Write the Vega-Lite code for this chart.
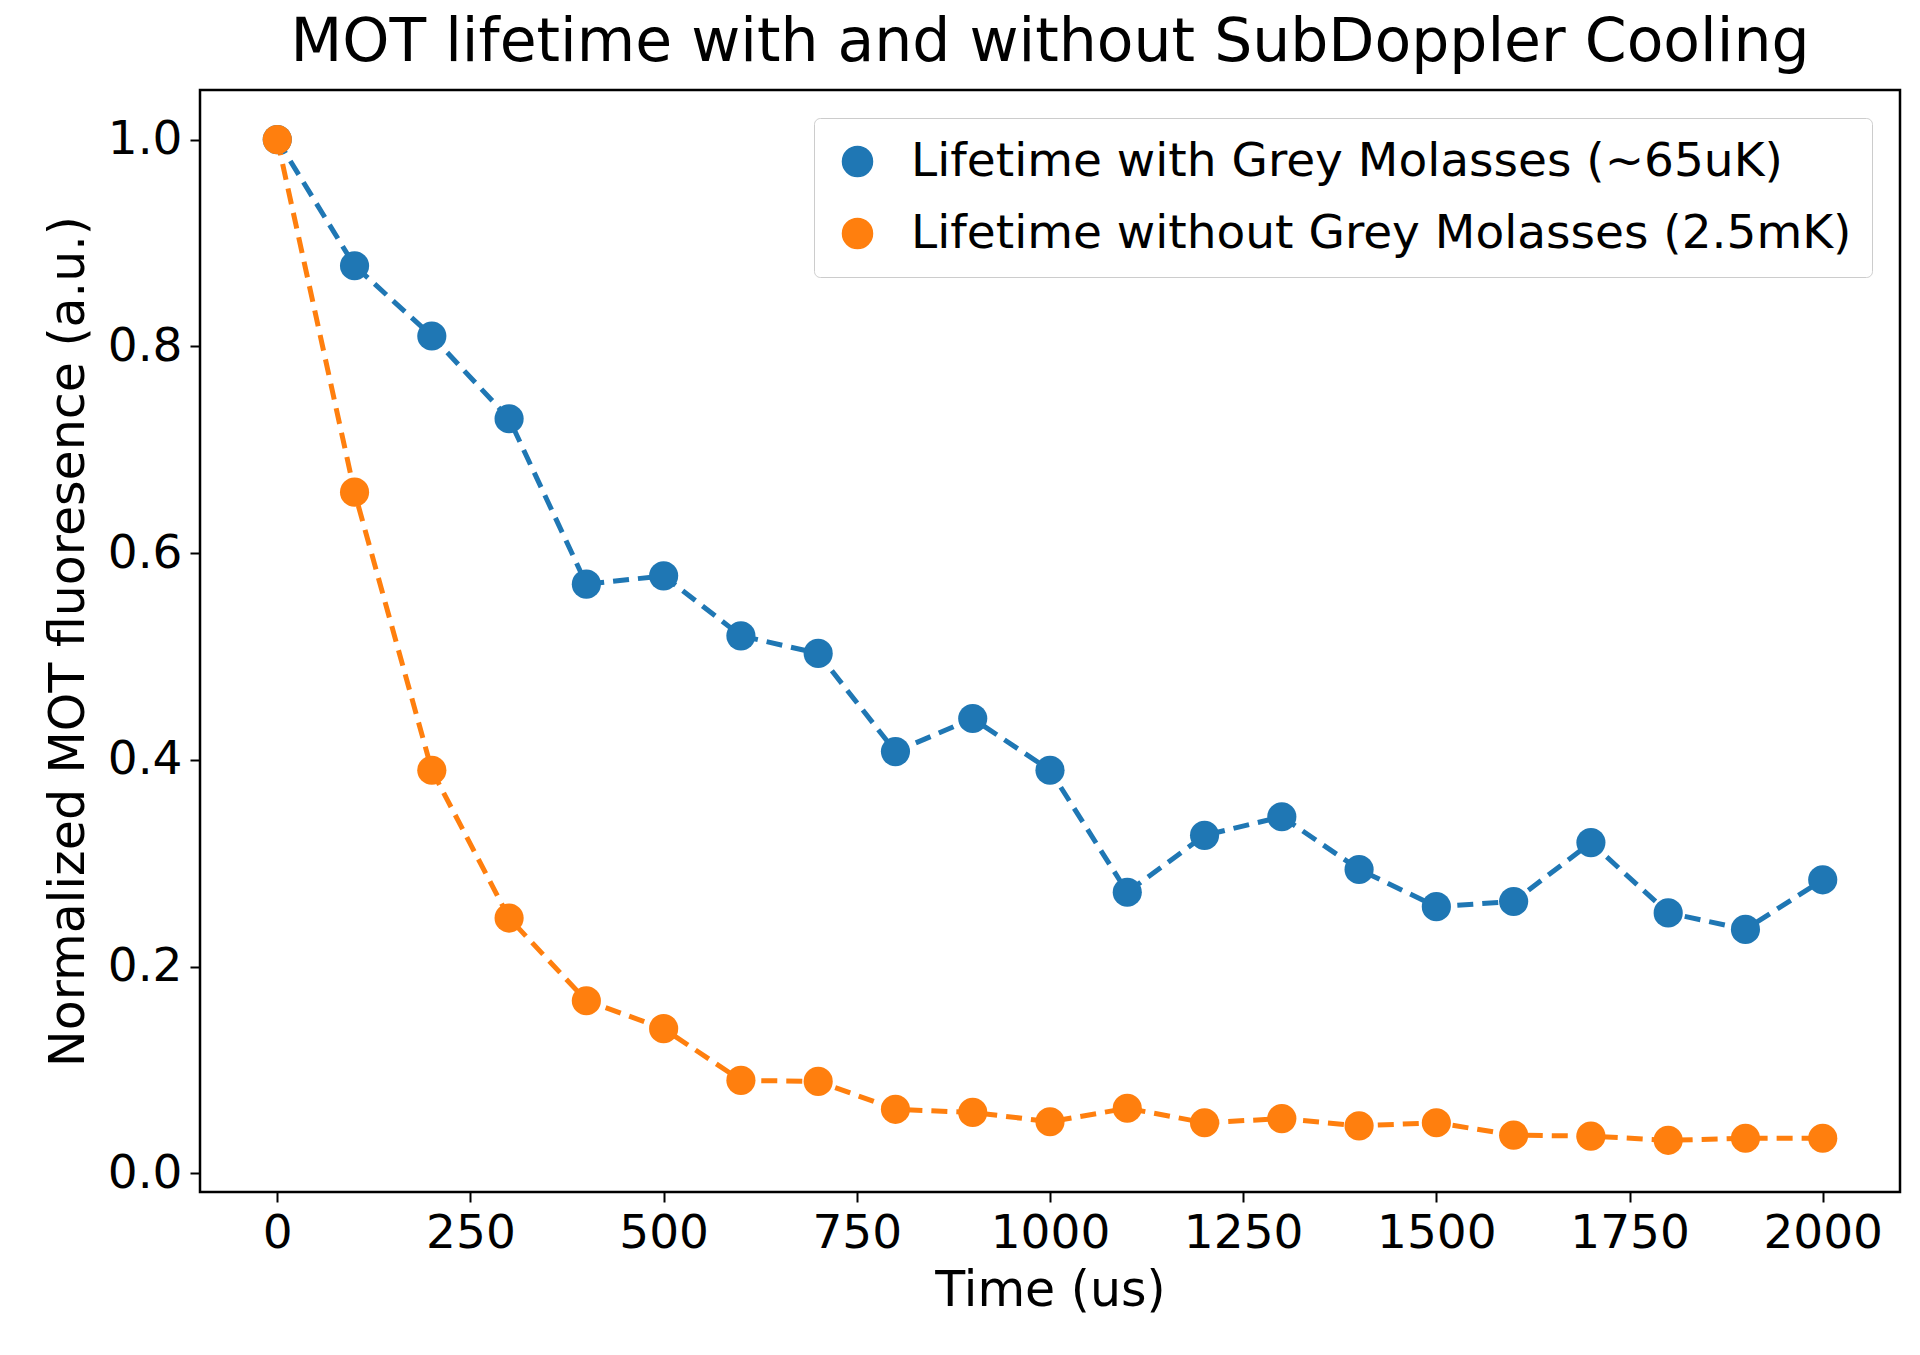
{
"$schema":"https://vega.github.io/schema/vega-lite/v6.json",
"width":1700,"height":1102,"autosize":{"type":"none"},
"padding":{"left":200,"top":90,"right":20,"bottom":163},
"background":"white",
"title":{"text":"MOT lifetime with and without SubDoppler Cooling","fontSize":60,"font":"DejaVu Sans","fontWeight":"normal","offset":16},
"config":{"font":"DejaVu Sans","view":{"stroke":"black","strokeWidth":2.5}},
"data":{"values":[
{"t":0,"y":1.0,"s":"Lifetime with Grey Molasses (~65uK)"},
{"t":100,"y":0.878,"s":"Lifetime with Grey Molasses (~65uK)"},
{"t":200,"y":0.81,"s":"Lifetime with Grey Molasses (~65uK)"},
{"t":300,"y":0.73,"s":"Lifetime with Grey Molasses (~65uK)"},
{"t":400,"y":0.57,"s":"Lifetime with Grey Molasses (~65uK)"},
{"t":500,"y":0.578,"s":"Lifetime with Grey Molasses (~65uK)"},
{"t":600,"y":0.52,"s":"Lifetime with Grey Molasses (~65uK)"},
{"t":700,"y":0.503,"s":"Lifetime with Grey Molasses (~65uK)"},
{"t":800,"y":0.408,"s":"Lifetime with Grey Molasses (~65uK)"},
{"t":900,"y":0.44,"s":"Lifetime with Grey Molasses (~65uK)"},
{"t":1000,"y":0.39,"s":"Lifetime with Grey Molasses (~65uK)"},
{"t":1100,"y":0.272,"s":"Lifetime with Grey Molasses (~65uK)"},
{"t":1200,"y":0.327,"s":"Lifetime with Grey Molasses (~65uK)"},
{"t":1300,"y":0.345,"s":"Lifetime with Grey Molasses (~65uK)"},
{"t":1400,"y":0.294,"s":"Lifetime with Grey Molasses (~65uK)"},
{"t":1500,"y":0.258,"s":"Lifetime with Grey Molasses (~65uK)"},
{"t":1600,"y":0.263,"s":"Lifetime with Grey Molasses (~65uK)"},
{"t":1700,"y":0.32,"s":"Lifetime with Grey Molasses (~65uK)"},
{"t":1800,"y":0.252,"s":"Lifetime with Grey Molasses (~65uK)"},
{"t":1900,"y":0.236,"s":"Lifetime with Grey Molasses (~65uK)"},
{"t":2000,"y":0.284,"s":"Lifetime with Grey Molasses (~65uK)"},
{"t":0,"y":1.0,"s":"Lifetime without Grey Molasses (2.5mK)"},
{"t":100,"y":0.659,"s":"Lifetime without Grey Molasses (2.5mK)"},
{"t":200,"y":0.39,"s":"Lifetime without Grey Molasses (2.5mK)"},
{"t":300,"y":0.247,"s":"Lifetime without Grey Molasses (2.5mK)"},
{"t":400,"y":0.167,"s":"Lifetime without Grey Molasses (2.5mK)"},
{"t":500,"y":0.14,"s":"Lifetime without Grey Molasses (2.5mK)"},
{"t":600,"y":0.09,"s":"Lifetime without Grey Molasses (2.5mK)"},
{"t":700,"y":0.089,"s":"Lifetime without Grey Molasses (2.5mK)"},
{"t":800,"y":0.062,"s":"Lifetime without Grey Molasses (2.5mK)"},
{"t":900,"y":0.059,"s":"Lifetime without Grey Molasses (2.5mK)"},
{"t":1000,"y":0.05,"s":"Lifetime without Grey Molasses (2.5mK)"},
{"t":1100,"y":0.063,"s":"Lifetime without Grey Molasses (2.5mK)"},
{"t":1200,"y":0.049,"s":"Lifetime without Grey Molasses (2.5mK)"},
{"t":1300,"y":0.053,"s":"Lifetime without Grey Molasses (2.5mK)"},
{"t":1400,"y":0.046,"s":"Lifetime without Grey Molasses (2.5mK)"},
{"t":1500,"y":0.049,"s":"Lifetime without Grey Molasses (2.5mK)"},
{"t":1600,"y":0.037,"s":"Lifetime without Grey Molasses (2.5mK)"},
{"t":1700,"y":0.036,"s":"Lifetime without Grey Molasses (2.5mK)"},
{"t":1800,"y":0.032,"s":"Lifetime without Grey Molasses (2.5mK)"},
{"t":1900,"y":0.034,"s":"Lifetime without Grey Molasses (2.5mK)"},
{"t":2000,"y":0.034,"s":"Lifetime without Grey Molasses (2.5mK)"}
]},
"encoding":{
"x":{"field":"t","type":"quantitative","scale":{"domain":[-100,2100],"nice":false,"zero":false},"title":"Time (us)",
"axis":{"values":[0,250,500,750,1000,1250,1500,1750,2000],"format":"d","grid":false,"labelFontSize":47,"titleFontSize":49,"titleFontWeight":"normal","tickSize":10,"tickWidth":2,"labelPadding":8,"titlePadding":10,"domain":false,"labelColor":"black","titleColor":"black","tickColor":"black"}},
"y":{"field":"y","type":"quantitative","scale":{"domain":[-0.018,1.048],"nice":false,"zero":false},"title":"Normalized MOT fluoresence (a.u.)",
"axis":{"values":[0,0.2,0.4,0.6,0.8,1.0],"format":".1f","grid":false,"labelFontSize":47,"titleFontSize":49,"titleFontWeight":"normal","tickSize":10,"tickWidth":2,"labelPadding":8,"titlePadding":14,"domain":false,"labelColor":"black","titleColor":"black","tickColor":"black"}},
"color":{"field":"s","type":"nominal","scale":{"range":["#1f77b4","#ff7f0e"]},"title":null,
"legend":{"orient":"top-right","offset":28,"labelFontSize":47,"labelLimit":1200,"symbolSize":900,"symbolType":"circle","fillColor":"white","strokeColor":"#cccccc","padding":20,"rowPadding":24,"labelOffset":30,"labelColor":"black","cornerRadius":6}}
},
"layer":[
{"mark":{"type":"line","strokeDash":[16,9],"strokeWidth":5}},
{"mark":{"type":"circle","size":850,"opacity":1}}
]
}
